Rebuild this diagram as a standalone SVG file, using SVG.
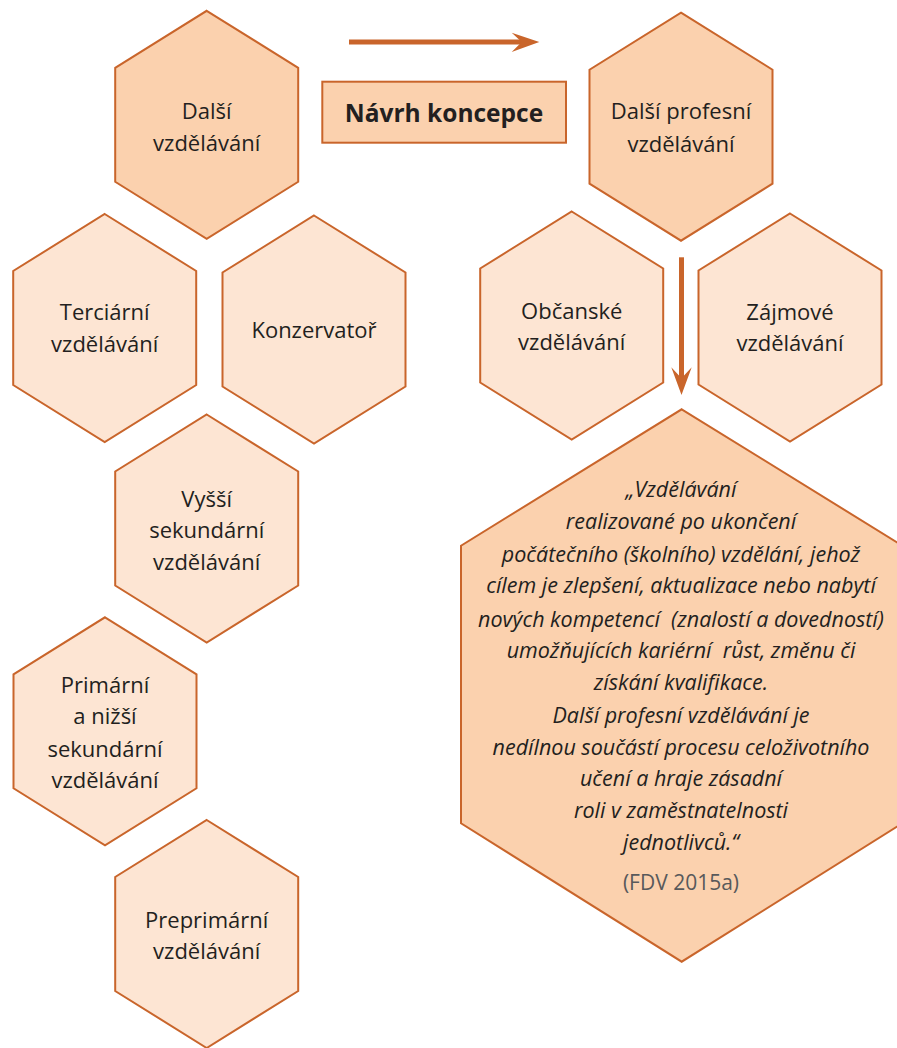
<svg xmlns="http://www.w3.org/2000/svg" xmlns:xlink="http://www.w3.org/1999/xlink" width="897" height="1048" viewBox="0 0 897 1048">
  <style>
    .hex { stroke: #C9652B; stroke-width: 2; stroke-linejoin: miter; }
    .dark { fill: #FBD1AE; }
    .light { fill: #FDE5D3; }
    .lbl { font-family: "Open Sans", "Noto Sans", sans-serif; font-size: 22px; fill: #231F20; text-anchor: middle; }
    .bold { font-family: "Open Sans", "Noto Sans", sans-serif; font-size: 24.5px; font-weight: bold; fill: #231F20; text-anchor: middle; }
    .quote { font-family: "Open Sans", "Noto Sans", sans-serif; font-size: 21.5px; font-style: italic; fill: #231F20; text-anchor: middle; white-space: pre; }
    .src { font-family: "Open Sans", "Noto Sans", sans-serif; font-size: 21px; fill: #58595B; text-anchor: middle; }
    .arrow { fill: #C9652B; }
  </style>
  <defs>
    <polygon id="hexshape" points="0,-114 91.5,-57 91.5,57 0,114 -91.5,57 -91.5,-57"/>
  </defs>

  <g id="node-dalsi">
    <use xlink:href="#hexshape" href="#hexshape" class="hex dark" x="206.7" y="124.8"/>
    <text class="lbl" x="206.7" y="119">Další</text>
    <text class="lbl" x="206.7" y="150.5">vzdělávání</text>
  </g>

  <g id="node-navrh">
    <rect x="322.3" y="81.7" width="243.7" height="61" class="hex dark"/>
    <text class="bold" x="444" y="122">Návrh koncepce</text>
  </g>

  <g id="node-dalsi-profesni">
    <use xlink:href="#hexshape" href="#hexshape" class="hex dark" x="681" y="126.7"/>
    <text class="lbl" x="681" y="119.3">Další profesní</text>
    <text class="lbl" x="681" y="151.5">vzdělávání</text>
  </g>

  <g id="node-terciarni">
    <use xlink:href="#hexshape" href="#hexshape" class="hex light" x="104.7" y="328"/>
    <text class="lbl" x="104.7" y="320">Terciární</text>
    <text class="lbl" x="104.7" y="351.5">vzdělávání</text>
  </g>

  <g id="node-konzervator">
    <use xlink:href="#hexshape" href="#hexshape" class="hex light" x="314" y="329.5"/>
    <text class="lbl" x="314" y="338.3">Konzervatoř</text>
  </g>

  <g id="node-obcanske">
    <use xlink:href="#hexshape" href="#hexshape" class="hex light" x="571.7" y="325.5"/>
    <text class="lbl" x="571.7" y="319">Občanské</text>
    <text class="lbl" x="571.7" y="350">vzdělávání</text>
  </g>

  <g id="node-zajmove">
    <use xlink:href="#hexshape" href="#hexshape" class="hex light" x="790" y="327.5"/>
    <text class="lbl" x="790" y="320">Zájmové</text>
    <text class="lbl" x="790" y="351">vzdělávání</text>
  </g>

  <g id="node-vyssi">
    <use xlink:href="#hexshape" href="#hexshape" class="hex light" x="206.7" y="528.5"/>
    <text class="lbl" x="206.7" y="506.7">Vyšší</text>
    <text class="lbl" x="206.7" y="538.3">sekundární</text>
    <text class="lbl" x="206.7" y="569.5">vzdělávání</text>
  </g>

  <g id="node-primarni">
    <use xlink:href="#hexshape" href="#hexshape" class="hex light" x="105" y="731.3"/>
    <text class="lbl" x="105" y="692.7">Primární</text>
    <text class="lbl" x="105" y="724.3">a nižší</text>
    <text class="lbl" x="105" y="756.5">sekundární</text>
    <text class="lbl" x="105" y="788.3">vzdělávání</text>
  </g>

  <g id="node-preprimarni">
    <use xlink:href="#hexshape" href="#hexshape" class="hex light" x="206.7" y="934"/>
    <text class="lbl" x="206.7" y="928.3">Preprimární</text>
    <text class="lbl" x="206.7" y="959.3">vzdělávání</text>
  </g>

  <g id="node-definice">
    <polygon class="hex dark" points="681.7,409.3 902.4,545.7 902.4,823.3 681.7,961.7 461,823.3 461,545.7"/>
    <text class="quote" x="681" y="497.3">„Vzdělávání</text>
    <text class="quote" x="681" y="529.3">realizované po ukončení</text>
    <text class="quote" x="681" y="562">počátečního (školního) vzdělání, jehož</text>
    <text class="quote" x="681" y="593">cílem je zlepšení, aktualizace nebo nabytí</text>
    <text class="quote" x="681" y="626.5">nových kompetencí  (znalostí a dovedností)</text>
    <text class="quote" x="681" y="658.3">umožňujících kariérní  růst, změnu či</text>
    <text class="quote" x="681" y="690">získání kvalifikace.</text>
    <text class="quote" x="681" y="722.5">Další profesní vzdělávání je</text>
    <text class="quote" x="681" y="755">nedílnou součástí procesu celoživotního</text>
    <text class="quote" x="681" y="785.5">učení a hraje zásadní</text>
    <text class="quote" x="681" y="818.3">roli v zaměstnatelnosti</text>
    <text class="quote" x="681" y="850">jednotlivců.“</text>
    <text class="src" x="681" y="890">(FDV 2015a)</text>
  </g>

  <g id="connectors">
    <rect class="arrow" x="349" y="39.5" width="175" height="5"/>
    <polygon class="arrow" points="539.3,42 511.7,32.7 521.7,42 511.7,52"/>
    <rect class="arrow" x="679" y="257.3" width="5" height="123"/>
    <polygon class="arrow" points="681.5,395 691.7,367.3 681.5,378.3 671.3,367.3"/>
  </g>
</svg>
